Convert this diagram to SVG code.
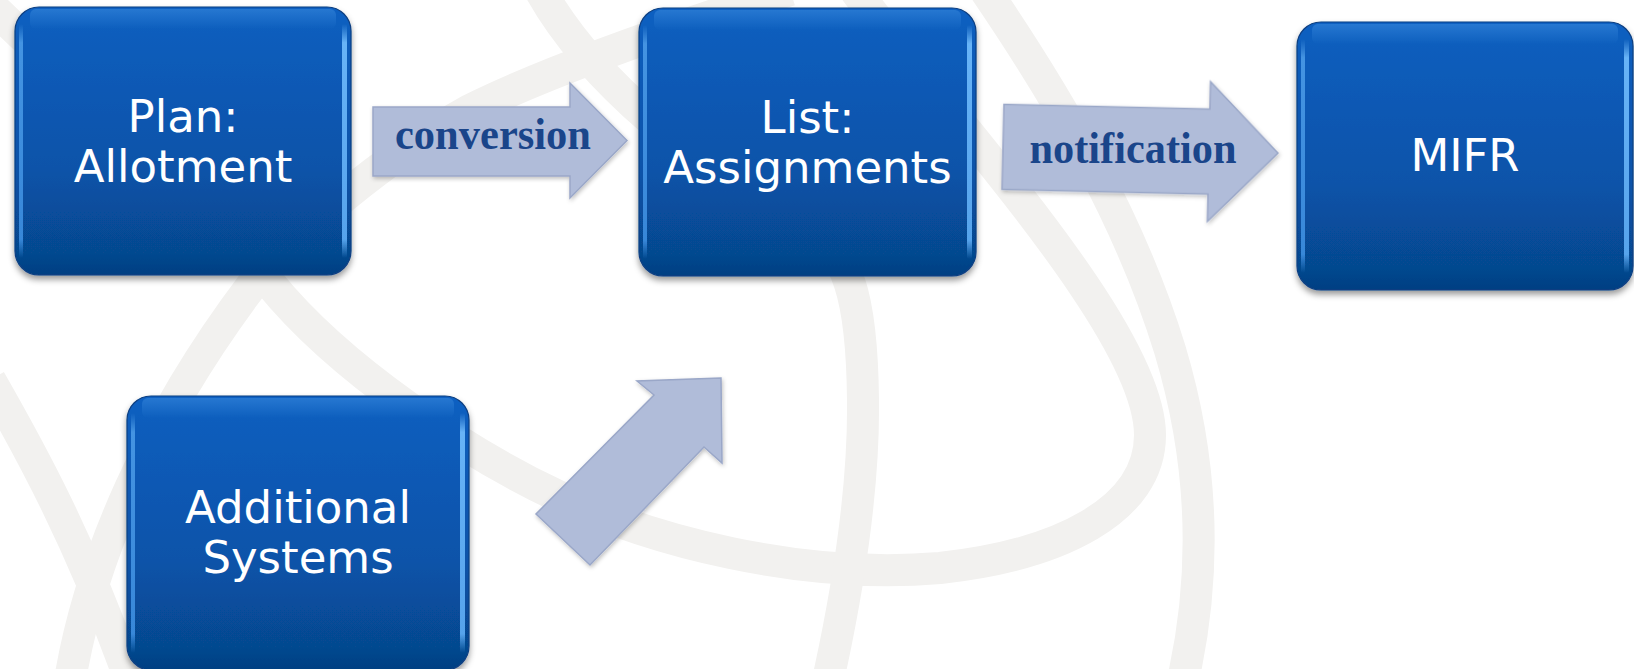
<svg xmlns="http://www.w3.org/2000/svg" width="1634" height="669" viewBox="0 0 1634 669">
<defs>
<style>
.band{fill:none;stroke:#f2f1ef;stroke-width:32}
.box{fill:url(#boxFill);stroke:#0a3f82;stroke-width:1.2;filter:url(#sh)}
.stripL{fill:url(#stripL)}
.stripR{fill:url(#stripR)}
.topglow{fill:url(#topGlow)}
.label{font-family:"DejaVu Sans",Verdana,sans-serif;font-size:45px;fill:#ffffff;text-anchor:middle}
.arrow{fill:#b0bcd9;stroke:#9aa7c8;stroke-width:1.5;filter:url(#ash)}
.alabel{font-family:"Liberation Serif","Times New Roman",serif;font-weight:bold;font-size:45px;fill:#1a458a;text-anchor:middle}
</style>
<linearGradient id="boxFill" x1="0" y1="0" x2="0" y2="1">
<stop offset="0" stop-color="#0b60c2"/>
<stop offset="0.1" stop-color="#0a5dbc"/>
<stop offset="0.6" stop-color="#0853a9"/>
<stop offset="0.92" stop-color="#06488f"/>
<stop offset="1" stop-color="#053f82"/>
</linearGradient>
<linearGradient id="stripL" x1="0" y1="0" x2="0" y2="1">
<stop offset="0" stop-color="#4a9ae6" stop-opacity="0"/>
<stop offset="0.08" stop-color="#4a9ae6" stop-opacity="0.9"/>
<stop offset="0.92" stop-color="#3d8ee0" stop-opacity="0.9"/>
<stop offset="1" stop-color="#3d8ee0" stop-opacity="0"/>
</linearGradient>
<linearGradient id="stripR" x1="0" y1="0" x2="0" y2="1">
<stop offset="0" stop-color="#6cb8fa" stop-opacity="0"/>
<stop offset="0.08" stop-color="#6cb8fa" stop-opacity="0.95"/>
<stop offset="0.92" stop-color="#5aa8f0" stop-opacity="0.95"/>
<stop offset="1" stop-color="#5aa8f0" stop-opacity="0"/>
</linearGradient>
<linearGradient id="topGlow" x1="0" y1="0" x2="0" y2="1">
<stop offset="0" stop-color="#3f8fe0" stop-opacity="0.5"/>
<stop offset="1" stop-color="#3f8fe0" stop-opacity="0"/>
</linearGradient>
<filter id="sh" x="-10%" y="-10%" width="120%" height="130%">
<feGaussianBlur in="SourceAlpha" stdDeviation="3"/>
<feOffset dy="4" result="o"/>
<feFlood flood-color="#000" flood-opacity="0.4"/>
<feComposite in2="o" operator="in"/>
<feMerge><feMergeNode/><feMergeNode in="SourceGraphic"/></feMerge>
</filter>
<filter id="ash" x="-10%" y="-10%" width="125%" height="130%">
<feGaussianBlur in="SourceAlpha" stdDeviation="2"/>
<feOffset dx="1" dy="2" result="o"/>
<feFlood flood-color="#000" flood-opacity="0.25"/>
<feComposite in2="o" operator="in"/>
<feMerge><feMergeNode/><feMergeNode in="SourceGraphic"/></feMerge>
</filter>
</defs>
<rect x="0" y="0" width="1634" height="669" fill="#ffffff"/>
<g id="background">
<path class="band" d="M 855,-10 C 950,120 1150,330 1150,435 C 1150,510 1060,555 940,568 C 800,580 650,540 560,497 C 470,455 340,370 269,282 C 200,210 80,90 -10,5"/>
<path class="band" d="M 70,680 C 90,560 150,420 252,285 C 300,230 380,160 470,110 C 540,75 650,35 790,-10"/>
<path class="band" d="M 540,-10 C 590,80 700,170 800,220 C 850,250 862,300 863,400 C 864,480 850,580 828,680"/>
<path class="band" d="M 985,-10 C 1060,100 1130,220 1170,350 C 1200,450 1210,560 1183,680"/>
<path class="band" d="M -10,380 C 30,450 80,540 130,680"/>
</g>
<g id="connectors">
<g id="edge-conversion">
<polygon class="arrow" points="373,107 570,107 570,83 627,140.5 570,198 570,176 373,176"/>
<text class="alabel" x="493" y="149" textLength="196" lengthAdjust="spacingAndGlyphs">conversion</text>
</g>
<g id="edge-notification">
<polygon class="arrow" transform="rotate(1.3 1140 150)" points="1003,107.5 1209,107.5 1209,80 1278,150 1209,220 1209,192.5 1003,192.5"/>
<text class="alabel" x="1133" y="163" textLength="207" lengthAdjust="spacingAndGlyphs">notification</text>
</g>
<g id="edge-additional">
<polygon class="arrow" points="721,378 637,381 654,395 536,514 590,565 704,447 722,463"/>
</g>
</g>
<g id="node-plan">
<rect class="box" x="15" y="7" width="336" height="268" rx="24"/>
<rect class="topglow" x="30" y="9" width="306" height="20" rx="6"/>
<rect class="stripL" x="19" y="24" width="4" height="234" rx="2"/>
<rect class="stripR" x="342" y="24" width="5" height="234" rx="2"/>
<text class="label" x="183" y="132">Plan:</text>
<text class="label" x="183" y="182">Allotment</text>
</g>
<g id="node-list">
<rect class="box" x="639" y="8" width="337" height="268" rx="24"/>
<rect class="topglow" x="654" y="10" width="307" height="20" rx="6"/>
<rect class="stripL" x="643" y="25" width="4" height="234" rx="2"/>
<rect class="stripR" x="967" y="25" width="5" height="234" rx="2"/>
<text class="label" x="807.5" y="133">List:</text>
<text class="label" x="807.5" y="183">Assignments</text>
</g>
<g id="node-mifr">
<rect class="box" x="1297" y="22" width="336" height="268" rx="24"/>
<rect class="topglow" x="1312" y="24" width="306" height="20" rx="6"/>
<rect class="stripL" x="1301" y="39" width="4" height="234" rx="2"/>
<rect class="stripR" x="1624" y="39" width="5" height="234" rx="2"/>
<text class="label" x="1465" y="171">MIFR</text>
</g>
<g id="node-additional">
<rect class="box" x="127" y="396" width="342" height="274" rx="24"/>
<rect class="topglow" x="142" y="398" width="312" height="20" rx="6"/>
<rect class="stripL" x="131" y="413" width="4" height="240" rx="2"/>
<rect class="stripR" x="460" y="413" width="5" height="240" rx="2"/>
<text class="label" x="298" y="523">Additional</text>
<text class="label" x="298" y="573">Systems</text>
</g>
</svg>
